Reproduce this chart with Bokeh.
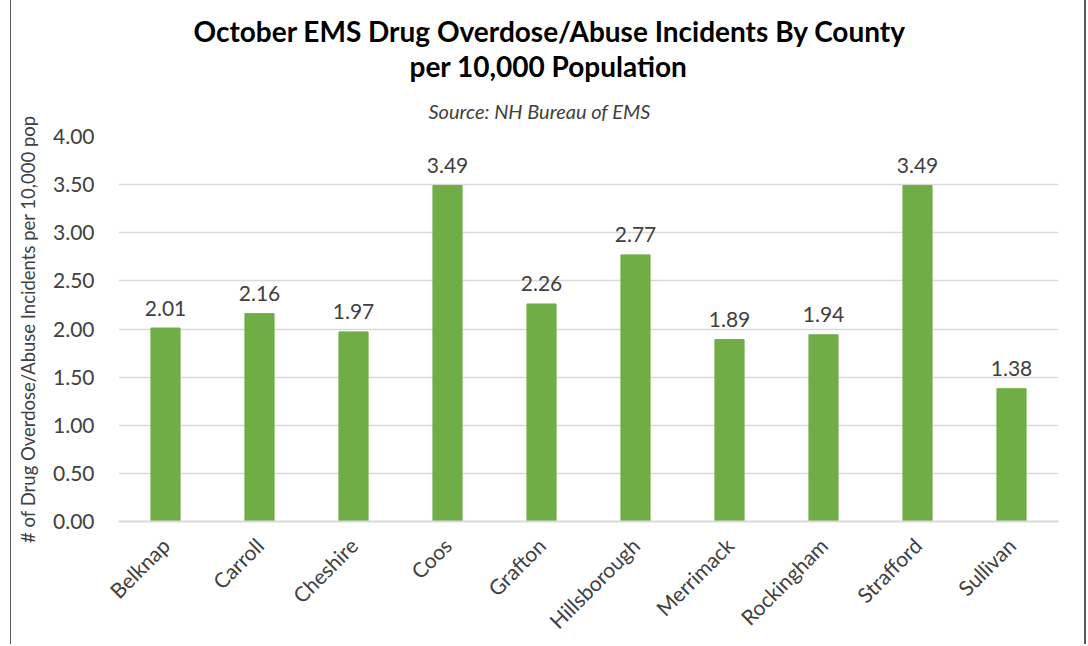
import math
from bokeh.plotting import figure
from bokeh.models import Title, NumeralTickFormatter, FixedTicker, Range1d, FactorRange
from bokeh.core.properties import value
from bokeh.embed import file_html
from bokeh.resources import INLINE

counties = ["Belknap", "Carroll", "Cheshire", "Coos", "Grafton", "Hillsborough",
            "Merrimack", "Rockingham", "Strafford", "Sullivan"]
rates = [2.01, 2.16, 1.97, 3.49, 2.26, 2.77, 1.89, 1.94, 3.49, 1.38]
rate_labels = ["%.2f" % v for v in rates]
y_ticks = [0.0, 0.5, 1.0, 1.5, 2.0, 2.5, 3.0, 3.5, 4.0]

title_line1 = "October EMS Drug Overdose/Abuse Incidents By County"
title_line2 = "per 10,000 Population"
subtitle = "Source: NH Bureau of EMS"
y_label = "# of Drug Overdose/Abuse Incidents per 10,000 pop"

FONT = "Lato"
BAR = "#70AD47"
GRID = "#D9D9D9"
TXT = "#404040"

p = figure(width=1076, height=644, output_backend="svg", toolbar_location=None,
           x_range=FactorRange(*counties, range_padding=0), y_range=Range1d(0, 4),
           min_border_left=107, min_border_right=29, min_border_top=136,
           min_border_bottom=122)
p.outline_line_color = None
p.background_fill_color = "white"
p.border_fill_color = "white"

p.vbar(x=counties, top=rates, width=0.31, color=BAR)
p.text(x=counties, y=rates, text=rate_labels, text_align="center",
       text_baseline="alphabetic", y_offset=-20, text_font_size="21px",
       text_color=TXT, text_font=value(FONT))

p.yaxis.ticker = FixedTicker(ticks=y_ticks)
p.yaxis.formatter = NumeralTickFormatter(format="0.00")
p.yaxis.axis_line_color = None
p.yaxis.major_tick_line_color = None
p.yaxis.minor_tick_line_color = None
p.yaxis.major_label_text_font = FONT
p.yaxis.major_label_text_font_size = "21px"
p.yaxis.major_label_text_color = TXT
p.yaxis.major_label_standoff = 18
p.yaxis.axis_label = y_label
p.yaxis.axis_label_text_font = FONT
p.yaxis.axis_label_text_font_size = "18.5px"
p.yaxis.axis_label_text_font_style = "normal"
p.yaxis.axis_label_text_color = TXT
p.yaxis.axis_label_standoff = 11

p.xaxis.axis_line_color = GRID
p.xaxis.axis_line_width = 2
p.xaxis.major_tick_line_color = None
p.xaxis.minor_tick_line_color = None
p.xaxis.major_label_orientation = math.pi / 4
p.xaxis.major_label_text_font = FONT
p.xaxis.major_label_text_font_size = "21px"
p.xaxis.major_label_text_color = TXT
p.xaxis.major_label_standoff = 14

p.xgrid.grid_line_color = None
p.ygrid.grid_line_color = GRID
p.ygrid.grid_line_width = 1.5

# titles stack outward: first added is closest to the plot
p.add_layout(Title(text=subtitle, align="left", offset=310, text_font=FONT,
                   text_font_style="italic", text_font_size="20px", text_color=TXT,
                   standoff=28), "above")
p.add_layout(Title(text=title_line2, align="left", offset=291, text_font=FONT,
                   text_font_style="bold", text_font_size="28px", text_color="black",
                   standoff=-1), "above")
p.add_layout(Title(text=title_line1, align="left", offset=75, text_font=FONT,
                   text_font_style="bold", text_font_size="28px", text_color="black",
                   standoff=0), "above")

p.styles = {"margin-left": "10px", "border-left": "1px solid #595959",
            "border-right": "2px solid #595959"}

open("out.html", "w").write(file_html(p, INLINE))
